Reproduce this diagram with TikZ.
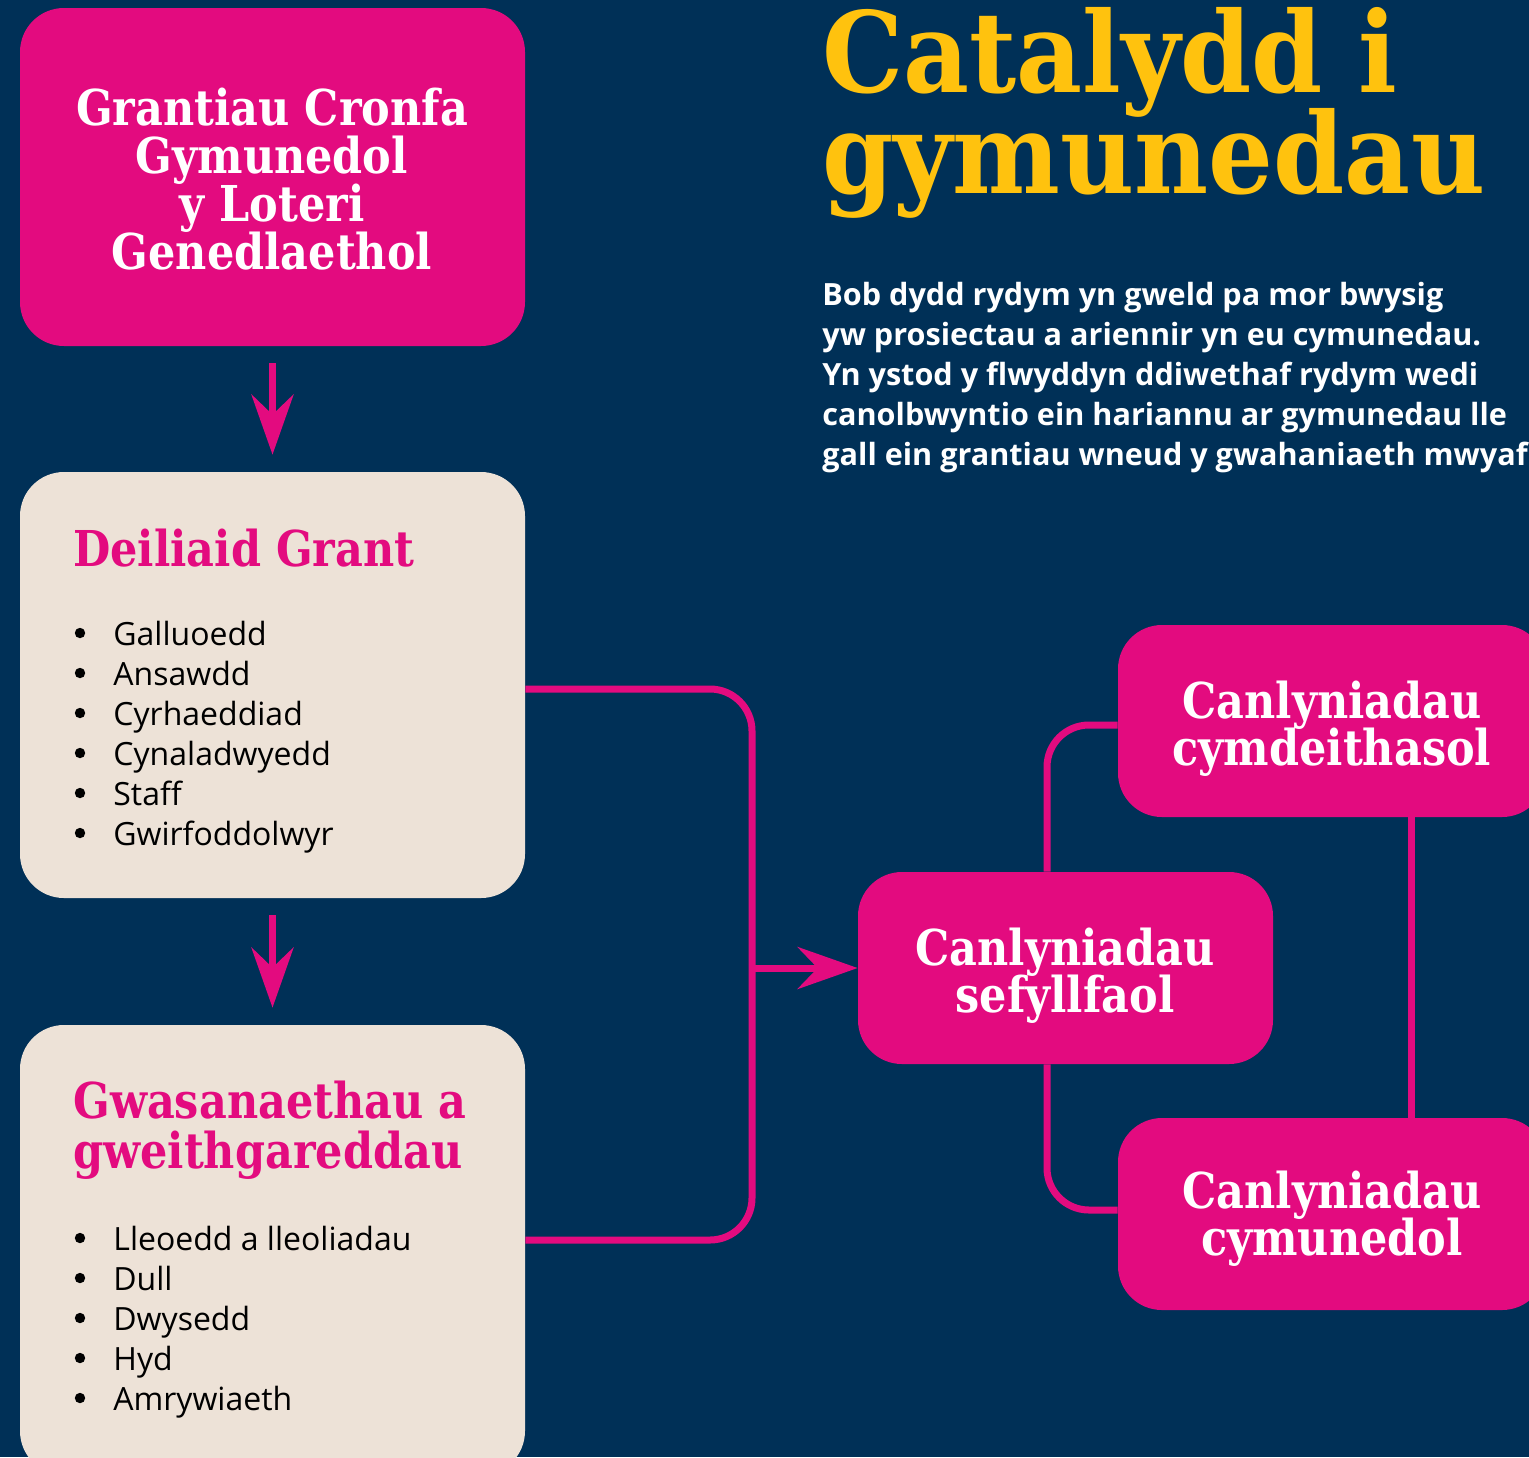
\documentclass[tikz,border=0pt]{standalone}
\usepackage{fontspec}
\usetikzlibrary{arrows.meta,calc}
\newfontfamily\slab{DejaVu Serif}[FakeStretch=0.87]
\newfontfamily\slabT{DejaVu Serif}[FakeStretch=0.91]
\newfontfamily\osans{Open Sans}
\definecolor{navy}{HTML}{003057}
\definecolor{mag}{HTML}{E30B7F}
\definecolor{beige}{HTML}{EDE2D7}
\definecolor{gold}{HTML}{FFC20E}
\begin{document}
\begin{tikzpicture}[x=0.5pt,y=-0.5pt,
  magbox/.style={fill=mag, rounded corners=22pt, inner sep=0pt, draw=none},
  beigebox/.style={fill=beige, rounded corners=22pt, inner sep=0pt, draw=none},
  hdw/.style={text=white, inner sep=0pt, anchor=base, font=\slab\bfseries\fontsize{24.7}{24}\selectfont},
  hdm/.style={text=mag, inner sep=0pt, anchor=base west, font=\slab\bfseries\fontsize{24.7}{24}\selectfont},
  item/.style={text=black, inner sep=0pt, anchor=base west, font=\osans\fontsize{16}{20}\selectfont},
  bullet/.style={fill=black},
  para/.style={text=white, inner sep=0pt, anchor=base west, font=\osans\bfseries\fontsize{15.3}{20}\selectfont},
  ttl/.style={text=gold, inner sep=0pt, anchor=base west, font=\slabT\bfseries\fontsize{56}{50}\selectfont},
  conn/.style={draw=mag, line width=3.5pt, rounded corners=21pt},
  arr/.style={draw=mag, line width=3.5pt, -{Stealth[length=30pt,width=21pt,inset=10pt]}}
]
\fill[navy] (0,0) rectangle (1529,1457);
\useasboundingbox (0,0) rectangle (1529,1457);

% left column boxes
\node[magbox, minimum width=252.5pt, minimum height=169pt] (grant) at (272.5,177) {};
\node[beigebox, minimum width=252.5pt, minimum height=213pt] (deil) at (272.5,685) {};
\node[beigebox, minimum width=252.5pt, minimum height=225pt] (serv) at (272.5,1250) {};

\foreach \t [count=\i] in {Grantiau Cronfa, Gymunedol, y Loteri, Genedlaethol}
  \node[hdw] (gt\i) at (272, {125+48*(\i-1)}) {\t};

\node[hdm] (dh) at (73,566) {Deiliaid Grant};
\foreach \t [count=\i] in {Galluoedd, Ansawdd, Cyrhaeddiad, Cynaladwyedd, Staff, Gwirfoddolwyr}{
  \fill[bullet] (80, {633+40*(\i-1)}) circle (2.6pt);
  \node[item] (da\i) at (113, {645+40*(\i-1)}) {\t};
}

\node[hdm] (sh1) at (73,1118) {Gwasanaethau a};
\node[hdm] (sh2) at (73,1168) {gweithgareddau};
\foreach \t [count=\i] in {Lleoedd a lleoliadau, Dull, Dwysedd, Hyd, Amrywiaeth}{
  \fill[bullet] (80, {1238+40*(\i-1)}) circle (2.6pt);
  \node[item] (sa\i) at (113, {1250+40*(\i-1)}) {\t};
}

% arrows between left boxes
\draw[arr] ([yshift=-8.5pt]grant.south) -- ([yshift=8.5pt]deil.north);
\draw[arr] ([yshift=-8.5pt]deil.south) -- ([yshift=8.5pt]serv.north);

% title and paragraph
\node[ttl] (ti1) at (822,92) {Catalydd i};
\node[ttl] (ti2) at (822,193) {gymunedau};
\foreach \t [count=\i] in {Bob dydd rydym yn gweld pa mor bwysig,
  yw prosiectau a ariennir yn eu cymunedau.,
  Yn ystod y flwyddyn ddiwethaf rydym wedi,
  canolbwyntio ein hariannu ar gymunedau lle,
  gall ein grantiau wneud y gwahaniaeth mwyaf}
  \node[para] (p\i) at (822, {305+40*(\i-1)}) {\t};

% right boxes
\node[magbox, minimum width=207.5pt, minimum height=96pt] (mid) at (1065.5,968) {};
\node[magbox, minimum width=214pt, minimum height=96pt] (tr) at (1332,721) {};
\node[magbox, minimum width=214pt, minimum height=96pt] (br) at (1332,1214) {};

\node[hdw] (m1) at (1065,965) {Canlyniadau};
\node[hdw] (m2) at (1065,1012) {sefyllfaol};
\node[hdw] (r1) at (1332,718) {Canlyniadau};
\node[hdw] (r2) at (1332,765) {cymdeithasol};
\node[hdw] (b1) at (1332,1208) {Canlyniadau};
\node[hdw] (b2) at (1332,1255) {cymunedol};

% connectors
\coordinate (jn) at (752,968);
\draw[conn] ([yshift=-2pt]deil.east) -| (jn) |- ([yshift=5pt]serv.east);
\draw[arr] (jn) -- (mid.west);
\draw[conn] ($(mid.north)+(-18.5,0)$) |- ($(tr.west)+(0,4)$);
\draw[conn] ($(mid.south)+(-18.5,0)$) |- ($(br.west)+(0,-4)$);
\draw[conn] ($(tr.south)+(79,0)$) -- ($(br.north)+(79,0)$);
\end{tikzpicture}
\end{document}
